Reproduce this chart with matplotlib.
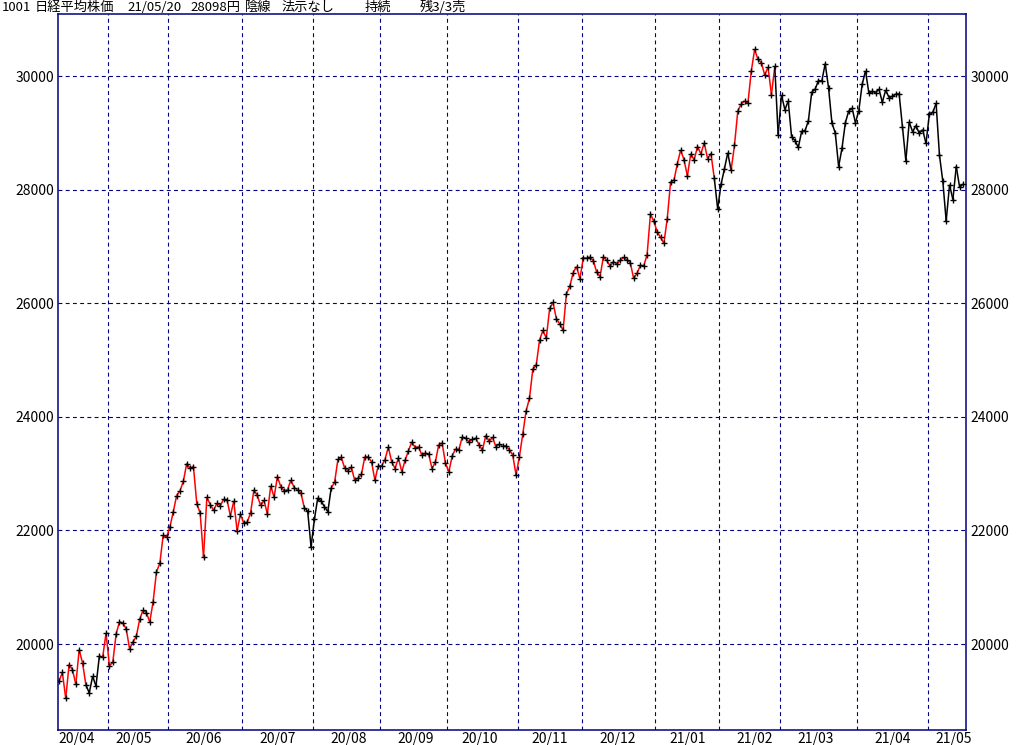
import numpy as np
import matplotlib
matplotlib.use("Agg")
import matplotlib.pyplot as plt
from matplotlib.collections import LineCollection

plt.rcParams['font.family'] = ['Liberation Sans Narrow', 'Noto Sans CJK JP', 'DejaVu Sans']

# 日経平均 終値 (2020/04/09 - 2021/05/20)
months = ["20/04", "20/05", "20/06", "20/07", "20/08", "20/09", "20/10",
          "20/11", "20/12", "21/01", "21/02", "21/03", "21/04", "21/05"]

days_2004 = [9, 10, 13, 14, 15, 16, 17, 20, 21, 22, 23, 24, 27, 28, 30]
days_2005 = [1, 7, 8, 11, 12, 13, 14, 15, 18, 19, 20, 21, 22, 25, 26, 27, 28, 29]
days_2006 = [1, 2, 3, 4, 5, 8, 9, 10, 11, 12, 15, 16, 17, 18, 19, 22, 23, 24, 25, 26, 29, 30]
days_2007 = [1, 2, 3, 6, 7, 8, 9, 10, 13, 14, 15, 16, 17, 20, 21, 22, 27, 28, 29, 30, 31]
days_2008 = [3, 4, 5, 6, 7, 11, 12, 13, 14, 17, 18, 19, 20, 21, 24, 25, 26, 27, 28, 31]
days_2009 = [1, 2, 3, 4, 7, 8, 9, 10, 11, 14, 15, 16, 17, 18, 23, 24, 25, 28, 29, 30]
days_2010 = [2, 5, 6, 7, 8, 9, 12, 13, 14, 15, 16, 19, 20, 21, 22, 23, 26, 27, 28, 29, 30]
days_2011 = [2, 4, 5, 6, 9, 10, 11, 12, 13, 16, 17, 18, 19, 20, 24, 25, 26, 27, 30]
days_2012 = [1, 2, 3, 4, 7, 8, 9, 10, 11, 14, 15, 16, 17, 18, 21, 22, 23, 24, 25, 28, 29, 30]
days_2101 = [4, 5, 6, 7, 8, 12, 13, 14, 15, 18, 19, 20, 21, 22, 25, 26, 27, 28, 29]
days_2102 = [1, 2, 3, 4, 5, 8, 9, 10, 12, 15, 16, 17, 18, 19, 22, 24, 25, 26]
days_2103 = [1, 2, 3, 4, 5, 8, 9, 10, 11, 12, 15, 16, 17, 18, 19, 22, 23, 24, 25, 26, 29, 30, 31]
days_2104 = [1, 2, 5, 6, 7, 8, 9, 12, 13, 14, 15, 16, 19, 20, 21, 22, 23, 26, 27, 28, 30]
days_2105 = [6, 7, 10, 11, 12, 13, 14, 17, 18, 19, 20]

close_2004 = [19346, 19499, 19043, 19639, 19550, 19290, 19897, 19669, 19281, 19138,
              19429, 19262, 19783, 19771, 20194]
close_2005 = [19619, 19675, 20179, 20391, 20366, 20267, 19915, 20037, 20134, 20433,
              20595, 20552, 20388, 20742, 21271, 21419, 21916, 21878]
close_2006 = [22062, 22326, 22614, 22696, 22864, 23178, 23091, 23125, 22473, 22305,
              21531, 22582, 22456, 22355, 22479, 22437, 22549, 22534, 22260, 22512,
              21995, 22288]
close_2007 = [22122, 22146, 22306, 22714, 22615, 22439, 22529, 22291, 22785, 22587,
              22946, 22770, 22696, 22717, 22884, 22752, 22716, 22657, 22397, 22339, 21710]
close_2008 = [22195, 22574, 22515, 22418, 22330, 22750, 22844, 23250, 23289, 23097,
              23051, 23111, 22881, 22920, 22986, 23297, 23291, 23209, 22883, 23140]
close_2009 = [23138, 23247, 23466, 23205, 23090, 23274, 23033, 23235, 23406, 23559,
              23455, 23476, 23319, 23360, 23346, 23088, 23205, 23512, 23539, 23185]
close_2010 = [23030, 23312, 23434, 23423, 23647, 23620, 23559, 23602, 23627, 23507,
              23411, 23671, 23567, 23639, 23474, 23517, 23494, 23486, 23419, 23332, 22977]
close_2011 = [23295, 23695, 24105, 24325, 24840, 24906, 25350, 25521, 25386, 25907,
              26015, 25728, 25634, 25527, 26166, 26297, 26537, 26645, 26434]
close_2012 = [26788, 26801, 26809, 26751, 26547, 26467, 26818, 26756, 26653, 26732,
              26688, 26757, 26807, 26763, 26714, 26436, 26525, 26668, 26657, 26854,
              27568, 27444]
close_2101 = [27258, 27159, 27056, 27490, 28139, 28164, 28457, 28698, 28519, 28242,
              28633, 28523, 28757, 28631, 28822, 28546, 28635, 28197, 27663]
close_2102 = [28091, 28362, 28647, 28342, 28779, 29389, 29506, 29563, 29520, 30084,
              30468, 30292, 30236, 30018, 30156, 29672, 30168, 28966]
close_2103 = [29664, 29408, 29559, 28930, 28864, 28743, 29028, 29037, 29212, 29718,
              29767, 29921, 29914, 30217, 29792, 29174, 28996, 28406, 28730, 29177,
              29385, 29433, 29179]
close_2104 = [29389, 29854, 30089, 29697, 29731, 29709, 29768, 29539, 29752, 29621,
              29643, 29683, 29685, 29100, 28509, 29188, 29021, 29126, 28992, 29054, 28813]
close_2105 = [29331, 29358, 29518, 28609, 28148, 27448, 28084, 27825, 28407, 28044, 28098]

# 黒線の期間 (ポジションなし)
flat_periods = [("20/04", 21, "20/04", 28), ("20/07", 29, "20/08", 11),
                ("21/01", 28, "21/02", 4), ("21/02", 25, "21/05", 20)]

yticks = [20000, 22000, 24000, 26000, 28000, 30000]

title_parts = [(2, "1001"), (35, "日経平均株価"), (127, "21/05/20"), (190, "28098円"),
               (245, "陰線"), (282, "法示なし"), (365, "持続"), (420, "残3/3売")]

all_days = [days_2004, days_2005, days_2006, days_2007, days_2008, days_2009, days_2010,
            days_2011, days_2012, days_2101, days_2102, days_2103, days_2104, days_2105]
all_close = [close_2004, close_2005, close_2006, close_2007, close_2008, close_2009,
             close_2010, close_2011, close_2012, close_2101, close_2102, close_2103,
             close_2104, close_2105]

keys = []
closes = []
month_start = []
label_pos = []
for m, ds, cs in zip(months, all_days, all_close):
    assert len(ds) == len(cs)
    month_start.append(len(keys))
    first8 = next(i for i, d in enumerate(ds) if d >= 8)
    label_pos.append(len(keys) + first8)
    for d, c in zip(ds, cs):
        keys.append((m, d))
        closes.append(c)

n = len(closes)
x = np.arange(n)
y = np.array(closes, dtype=float)

def in_flat(k):
    for m0, d0, m1, d1 in flat_periods:
        if (m0, d0) <= k <= (m1, d1):
            return True
    return False

segs = []
cols = []
for i in range(n - 1):
    segs.append([(x[i], y[i]), (x[i + 1], y[i + 1])])
    black = in_flat(keys[i]) and in_flat(keys[i + 1])
    cols.append('black' if black else 'red')

W, H = 1024, 745
fig = plt.figure(figsize=(W / 100, H / 100), dpi=100)
fig.patch.set_facecolor('white')
ax = fig.add_axes([58 / W, (H - 730) / H, 908 / W, 716 / H])

navy = '#000080'
for yt in yticks:
    ax.axhline(yt, color=navy, lw=0.8, ls=(0, (3.5, 3)), zorder=1)
for s in month_start[1:]:
    ax.axvline(s - 0.5, color=navy, lw=0.8, ls=(0, (3.5, 3)), zorder=1)

lc = LineCollection(segs, colors=cols, linewidths=1.1, zorder=2)
ax.add_collection(lc)
ax.plot(x, y, ls='none', marker='+', ms=4.5, mew=1.0, color='black', zorder=3)

ax.set_xlim(-0.3, 269.9)
ax.set_ylim(18486, 31092)
ax.set_xticks([])
ax.set_yticks(yticks)
ax.set_yticklabels([str(v) for v in yticks])
ax.tick_params(axis='y', length=0, pad=3, labelsize=10, labelleft=True,
               labelright=True, colors='black')
for sp in ax.spines.values():
    sp.set_color(navy)
    sp.set_linewidth(1.1)

for m, p in zip(months, label_pos):
    ax.text(p - 0.3, -0.003, m, transform=ax.get_xaxis_transform(), ha='left',
            va='top', fontsize=10)

for px, t in title_parts:
    fig.text(px / W, 1 - 7.5 / H, t, ha='left', va='center', fontsize=9.5)

fig.savefig('out.png', dpi=100, facecolor='white')
